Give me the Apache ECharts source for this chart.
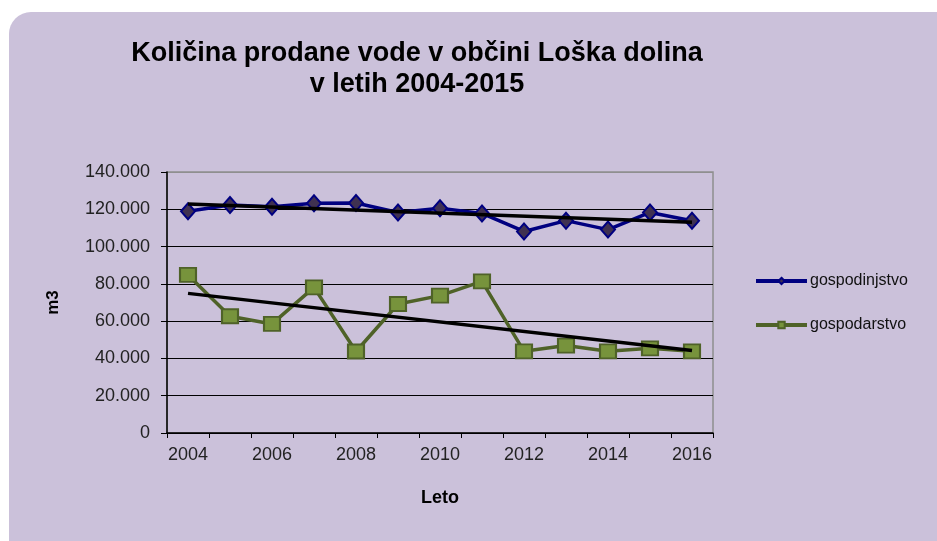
<!DOCTYPE html>
<html>
<head>
<meta charset="utf-8">
<script src="https://cdn.jsdelivr.net/npm/echarts@6/dist/echarts.min.js"></script>
<style>html,body{margin:0;padding:0;background:#fff;}#c{width:937px;height:541px;}</style>
</head>
<body>
<div id="c"></div>
<script>
var years = ['2004','2005','2006','2007','2008','2009','2010','2011','2012','2013','2014','2015','2016'];
var gospodinjstvo = [119000,122300,121400,123200,123400,118300,120500,117800,108100,113900,109100,118300,113900];
var gospodarstvo = [84800,62600,58500,78100,43700,69200,73700,81300,43800,46900,43800,45400,43800];
var trendGospodinjstvo = [122800,null,null,null,null,null,null,null,null,null,null,null,113000];
var trendGospodarstvo = [74900,null,null,null,null,null,null,null,null,null,null,null,44200];
var yTicks = [0,20000,40000,60000,80000,100000,120000,140000];

function fmt(v){ if(v===0) return '0'; var s=String(v); return s.slice(0,s.length-3)+'.'+s.slice(-3); }

var chart = echarts.init(document.getElementById('c'), null, {renderer:'canvas'});
var F = '"Liberation Sans", Arial, sans-serif';
chart.setOption({
  animation:false,
  backgroundColor:'#ffffff',
  graphic:[{type:'rect', z:-10, shape:{x:9,y:12,width:980,height:600,r:22}, style:{fill:'#CBC1DA'}}],
  title:{
    text:'Količina prodane vode v občini Loška dolina\nv letih 2004-2015',
    left:412, top:33, textAlign:'center',
    textStyle:{fontFamily:F, fontSize:27, fontWeight:'bold', color:'#000', lineHeight:31}
  },
  legend:{
    orient:'vertical', left:749, top:268, itemGap:28, itemWidth:51, itemHeight:8,
    data:['gospodinjstvo','gospodarstvo'],
    lineStyle:{width:4},
    textStyle:{fontFamily:F, fontSize:16, color:'#111', padding:[0,0,0,-2]}
  },
  grid:{left:167, right:224, top:172, bottom:108, show:true, borderColor:'#8f8f8f', borderWidth:1.5, backgroundColor:'transparent'},
  xAxis:{
    type:'category', data:years, boundaryGap:true,
    name:'Leto', nameLocation:'middle', nameGap:56,
    nameTextStyle:{fontFamily:F, fontSize:18, fontWeight:'bold', color:'#000'},
    axisLine:{lineStyle:{color:'#000', width:1.5}},
    axisTick:{show:true, interval:0, length:5, lineStyle:{color:'#000'}},
    axisLabel:{interval:1, margin:13, fontFamily:F, fontSize:18, color:'#222'}
  },
  yAxis:{
    type:'value', min:yTicks[0], max:yTicks[yTicks.length-1], interval:20000,
    name:'m3', nameLocation:'middle', nameGap:105, nameRotate:90,
    nameTextStyle:{fontFamily:F, fontSize:17, fontWeight:'bold', color:'#000'},
    axisLine:{show:true, lineStyle:{color:'#000', width:1.5}},
    axisTick:{show:true, length:6, lineStyle:{color:'#000'}},
    axisLabel:{margin:17, fontFamily:F, fontSize:18, color:'#222', formatter:fmt},
    splitLine:{show:true, lineStyle:{color:['#000','#000','#000','#000','#000','#000','#000','#8f8f8f'], width:1}}
  },
  series:[
    {name:'gospodinjstvo', type:'line', data:gospodinjstvo, symbol:'diamond', symbolSize:[14,16],
     lineStyle:{color:'#000080', width:3.5}, itemStyle:{color:'#3F3151', borderColor:'#000080', borderWidth:2}, z:3},
    {name:'gospodarstvo', type:'line', data:gospodarstvo, symbol:'rect', symbolSize:[16,14],
     lineStyle:{color:'#4F6228', width:3.5}, itemStyle:{color:'#77933C', borderColor:'#4F6228', borderWidth:2}, z:3},
    {name:'trend1', type:'line', data:trendGospodinjstvo, connectNulls:true, symbol:'none',
     lineStyle:{color:'#000', width:3.5}, z:4},
    {name:'trend2', type:'line', data:trendGospodarstvo, connectNulls:true, symbol:'none',
     lineStyle:{color:'#000', width:3.5}, z:4}
  ]
});
</script>
</body>
</html>
